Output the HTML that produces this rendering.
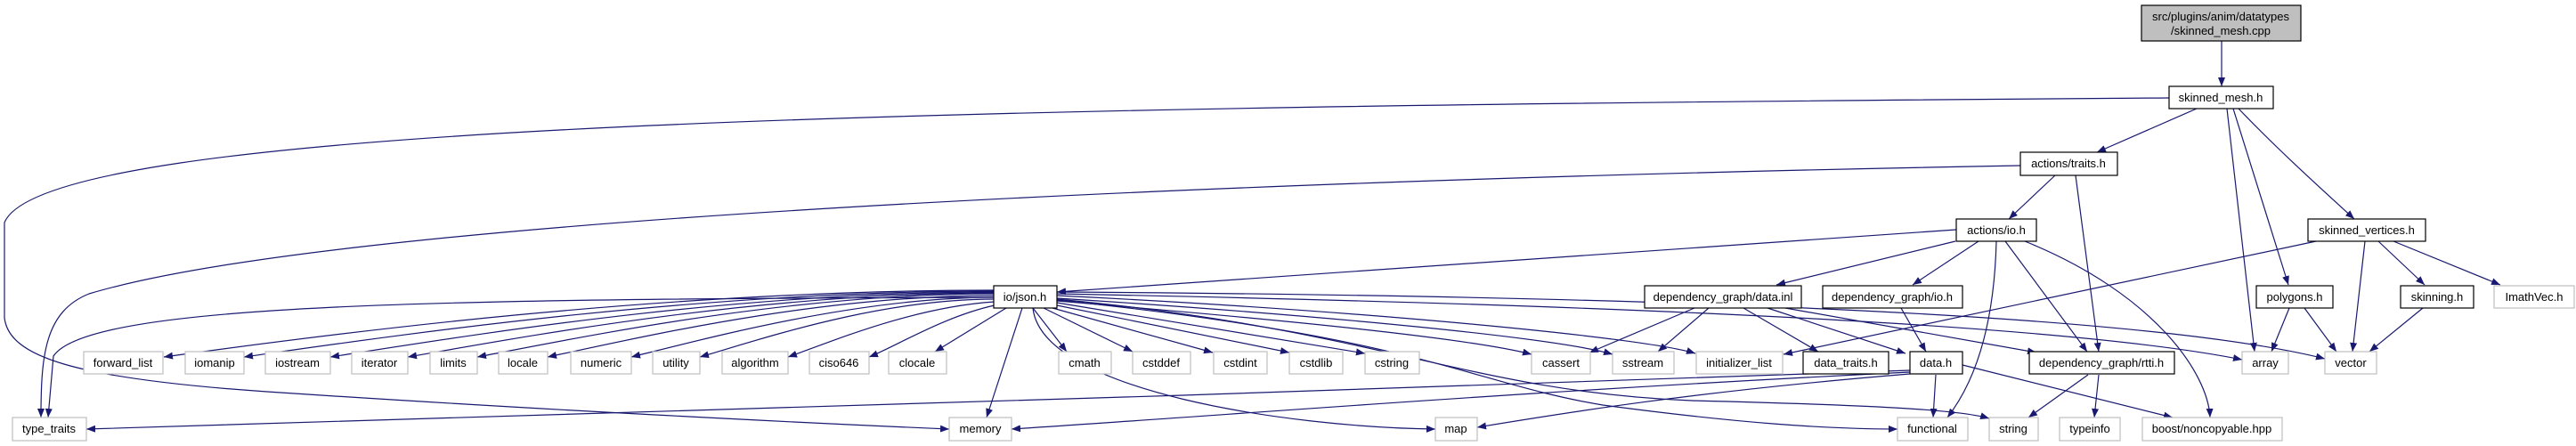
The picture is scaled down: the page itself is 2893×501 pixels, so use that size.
<!DOCTYPE html>
<html><head><meta charset="utf-8"><style>
html,body{margin:0;padding:0;background:#fff;}
svg{display:block;}
text{font-family:"Liberation Sans",sans-serif;font-size:13px;fill:#000;text-anchor:middle;}
.e{fill:none;stroke:#191970;stroke-width:1.2;marker-end:url(#a);}
.b{fill:#fff;stroke:#000;stroke-width:1.2;}
.g{fill:#fff;stroke:#bfbfbf;stroke-width:1.2;}
</style></head><body>
<svg width="2893" height="501" viewBox="0 0 2893 501" xmlns="http://www.w3.org/2000/svg">
<defs><marker id="a" markerUnits="userSpaceOnUse" markerWidth="11" markerHeight="8" refX="10" refY="4" orient="auto" viewBox="0 0 11 8"><path d="M0,0 L10,4 L0,8 z" fill="#191970"/></marker></defs>

<!-- edges -->
<path class="e" d="M2495,46 L2495,97"/>
<path class="e" d="M2436,110 C1000,120 50,140 5,250 L5,357 C10,400 80,425 300,440 C600,460 900,475 1066,482"/>
<path class="e" d="M2467,122 L2355,171"/>
<path class="e" d="M2501,122 L2532,395"/>
<path class="e" d="M2508,122 L2570,320"/>
<path class="e" d="M2514,122 C2560,170 2610,215 2644,246"/>
<path class="e" d="M2269,186 C1500,200 400,240 100,330 C50,350 46,400 46,469"/>
<path class="e" d="M2308,197 L2256,246"/>
<path class="e" d="M2331,197 L2357,395"/>
<path class="e" d="M2197,258 L1187,328"/>
<path class="e" d="M2196,271 L1995,320"/>
<path class="e" d="M2222,271 L2148,320"/>
<path class="e" d="M2242,271 C2240,350 2225,420 2187,469"/>
<path class="e" d="M2252,271 L2344,395"/>
<path class="e" d="M2274,271 C2420,330 2480,420 2482,469"/>
<path class="e" d="M2601,271 L2003,398"/>
<path class="e" d="M2656,271 L2642,395"/>
<path class="e" d="M2671,271 L2723,320"/>
<path class="e" d="M2688,271 L2808,320"/>
<path class="e" d="M2571,346 L2551,395"/>
<path class="e" d="M2588,346 L2624,395"/>
<path class="e" d="M2721,346 L2661,395"/>
<!-- json edges -->
<path class="e" d="M1117,334 C500,336 100,340 60,400 L54,469"/>
<path class="e" d="M1117,326 C744,326 371,375 184,401"/>
<path class="e" d="M1117,327 C780,327 443,377 274,401"/>
<path class="e" d="M1117,328 C819,328 520,378 371,401"/>
<path class="e" d="M1117,329 C853,329 590,378 458,401"/>
<path class="e" d="M1117,330 C885,330 652,379 536,401"/>
<path class="e" d="M1117,332 C916,332 715,380 615,401"/>
<path class="e" d="M1117,334 C962,334 791,381 709,401"/>
<path class="e" d="M1117,336 C985,336 852,382 786,401"/>
<path class="e" d="M1117,339 C1024,345 931,385 885,401"/>
<path class="e" d="M1117,343 C1061,355 1004,390 976,401"/>
<path class="e" d="M1130,346 L1050,395"/>
<path class="e" d="M1160,346 L1198,395"/>
<path class="e" d="M1172,346 L1272,395"/>
<path class="e" d="M1182,346 L1362,396"/>
<path class="e" d="M1187,343 L1448,396"/>
<path class="e" d="M1187,340 L1533,397"/>
<path class="e" d="M1187,338 C1450,360 1650,380 1720,398"/>
<path class="e" d="M1187,335 C1500,355 1750,380 1811,398"/>
<path class="e" d="M1187,332 C1550,350 1850,380 1904,397"/>
<path class="e" d="M1187,330 C1700,340 2300,360 2518,404"/>
<path class="e" d="M1187,328 C1800,332 2400,350 2611,403"/>
<path class="e" d="M1148,346 L1108,469"/>
<path class="e" d="M1160,346 C1170,440 1450,480 1612,482"/>
<path class="e" d="M1187,337 C1600,380 1650,430 1800,455 C1950,475 2050,482 2131,482"/>
<path class="e" d="M1187,336 C1550,370 1650,440 1900,450 C2100,455 2200,460 2234,470"/>
<!-- data.inl edges -->
<path class="e" d="M1903,346 L1785,396"/>
<path class="e" d="M1919,346 L1862,395"/>
<path class="e" d="M1958,346 L2042,395"/>
<path class="e" d="M1985,346 L2140,397"/>
<path class="e" d="M2005,346 L2287,396"/>
<path class="e" d="M2135,346 L2163,395"/>
<!-- data.h edges -->
<path class="e" d="M2145,416 C1500,440 500,470 97,482"/>
<path class="e" d="M2145,418 C1700,440 1400,465 1136,482"/>
<path class="e" d="M2145,420 C1900,440 1750,465 1659,480"/>
<path class="e" d="M2174,421 L2171,469"/>
<path class="e" d="M2204,410 L2440,469"/>
<path class="e" d="M2345,421 L2278,469"/>
<path class="e" d="M2357,421 L2352,469"/>

<!-- nodes -->
<rect x="2405" y="6" width="179" height="40" fill="#bfbfbf" stroke="#000" stroke-width="1.2"/>
<text x="2494" y="23">src/plugins/anim/datatypes</text>
<text x="2494" y="39">/skinned_mesh.cpp</text>
<rect class="b" x="2436" y="97" width="117" height="25"/><text x="2494" y="114">skinned_mesh.h</text>
<rect class="b" x="2269" y="171" width="109" height="26"/><text x="2323" y="188">actions/traits.h</text>
<rect class="b" x="2197" y="246" width="90" height="25"/><text x="2242" y="263">actions/io.h</text>
<rect class="b" x="2592" y="246" width="132" height="25"/><text x="2658" y="263">skinned_vertices.h</text>
<rect class="b" x="1116" y="321" width="71" height="25"/><text x="1151" y="338">io/json.h</text>
<rect class="b" x="1847" y="321" width="176" height="25"/><text x="1935" y="338">dependency_graph/data.inl</text>
<rect class="b" x="2047" y="321" width="157" height="25"/><text x="2125" y="338">dependency_graph/io.h</text>
<rect class="b" x="2534" y="321" width="86" height="25"/><text x="2577" y="338">polygons.h</text>
<rect class="b" x="2696" y="321" width="82" height="25"/><text x="2737" y="338">skinning.h</text>
<rect class="g" x="2801" y="321" width="90" height="25"/><text x="2846" y="338">ImathVec.h</text>

<rect class="g" x="94" y="395" width="89" height="25"/><text x="138" y="412">forward_list</text>
<rect class="g" x="208" y="395" width="66" height="25"/><text x="241" y="412">iomanip</text>
<rect class="g" x="298" y="395" width="73" height="25"/><text x="334" y="412">iostream</text>
<rect class="g" x="395" y="395" width="63" height="25"/><text x="426" y="412">iterator</text>
<rect class="g" x="483" y="395" width="53" height="25"/><text x="509" y="412">limits</text>
<rect class="g" x="560" y="395" width="55" height="25"/><text x="587" y="412">locale</text>
<rect class="g" x="641" y="395" width="68" height="25"/><text x="675" y="412">numeric</text>
<rect class="g" x="733" y="395" width="53" height="25"/><text x="759" y="412">utility</text>
<rect class="g" x="811" y="395" width="74" height="25"/><text x="848" y="412">algorithm</text>
<rect class="g" x="909" y="395" width="67" height="25"/><text x="942" y="412">ciso646</text>
<rect class="g" x="998" y="395" width="65" height="25"/><text x="1030" y="412">clocale</text>
<rect class="g" x="1189" y="395" width="59" height="25"/><text x="1218" y="412">cmath</text>
<rect class="g" x="1272" y="395" width="65" height="25"/><text x="1304" y="412">cstddef</text>
<rect class="g" x="1363" y="395" width="60" height="25"/><text x="1393" y="412">cstdint</text>
<rect class="g" x="1448" y="395" width="60" height="25"/><text x="1478" y="412">cstdlib</text>
<rect class="g" x="1533" y="395" width="61" height="25"/><text x="1563" y="412">cstring</text>
<rect class="g" x="1720" y="395" width="66" height="25"/><text x="1753" y="412">cassert</text>
<rect class="g" x="1811" y="395" width="69" height="25"/><text x="1845" y="412">sstream</text>
<rect class="g" x="1905" y="395" width="97" height="25"/><text x="1953" y="412">initializer_list</text>
<rect class="b" x="2025" y="395" width="96" height="25"/><text x="2073" y="412">data_traits.h</text>
<rect class="b" x="2145" y="395" width="59" height="25"/><text x="2174" y="412">data.h</text>
<rect class="b" x="2279" y="395" width="163" height="25"/><text x="2360" y="412">dependency_graph/rtti.h</text>
<rect class="g" x="2518" y="395" width="52" height="25"/><text x="2544" y="412">array</text>
<rect class="g" x="2611" y="395" width="58" height="25"/><text x="2640" y="412">vector</text>

<rect class="g" x="14" y="469" width="83" height="26"/><text x="55" y="486">type_traits</text>
<rect class="g" x="1066" y="469" width="70" height="26"/><text x="1101" y="486">memory</text>
<rect class="g" x="1612" y="469" width="47" height="26"/><text x="1635" y="486">map</text>
<rect class="g" x="2131" y="469" width="79" height="26"/><text x="2170" y="486">functional</text>
<rect class="g" x="2234" y="469" width="55" height="26"/><text x="2261" y="486">string</text>
<rect class="g" x="2313" y="469" width="68" height="26"/><text x="2347" y="486">typeinfo</text>
<rect class="g" x="2406" y="469" width="157" height="26"/><text x="2484" y="486">boost/noncopyable.hpp</text>
</svg>
</body></html>
